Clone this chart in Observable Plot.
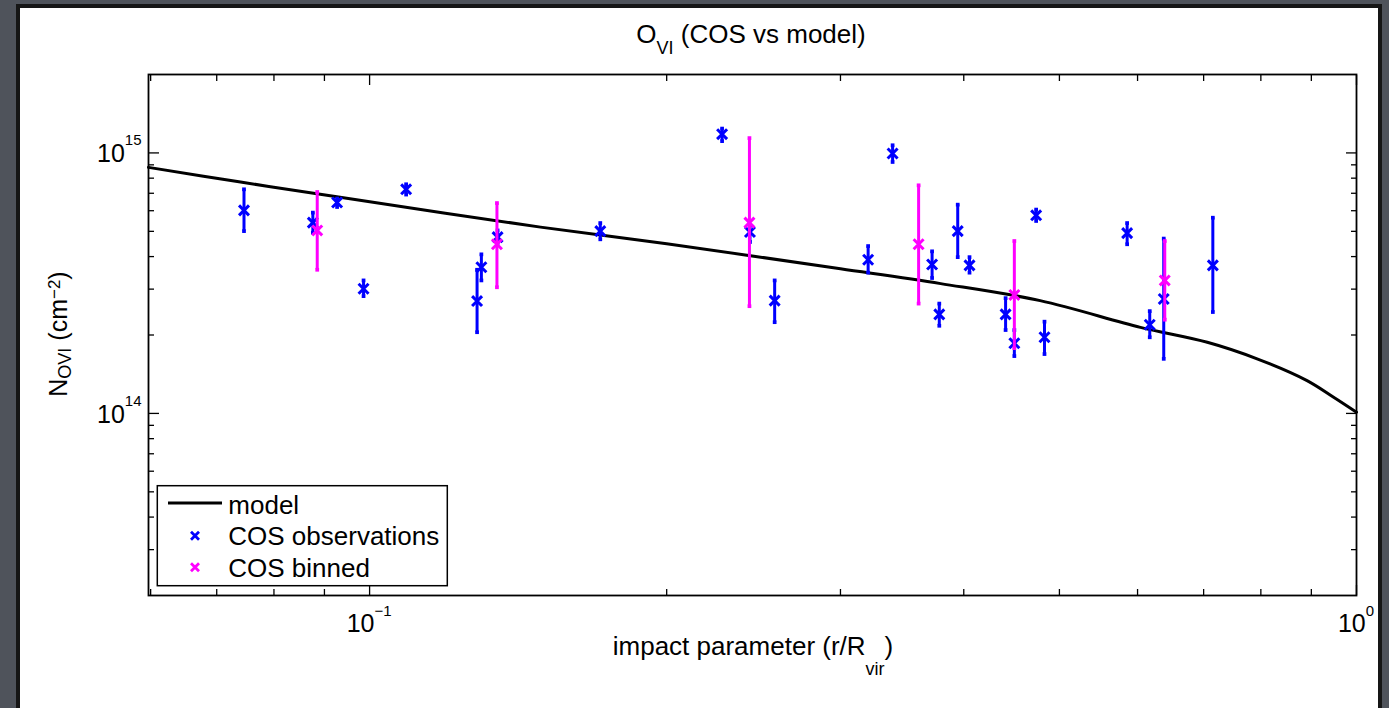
<!DOCTYPE html>
<html>
<head>
<meta charset="utf-8">
<script src="https://cdn.jsdelivr.net/npm/d3@7"></script>
<script src="https://cdn.jsdelivr.net/npm/@observablehq/plot@0.6"></script>
<style>
  html, body { margin: 0; padding: 0; width: 1389px; height: 708px; overflow: hidden; background: #4f535b; }
  #panel { position: absolute; left: 16px; top: 4px; width: 1366px; height: 712px; background: #fff;
           border: 4px solid #161616; box-sizing: border-box; }
  #chart { position: absolute; left: 0; top: 0; }
</style>
</head>
<body>
<div id="panel"></div>
<div id="chart"></div>
<script>
// Model O VI column density vs impact parameter
const modelR = [0.0597, 0.074, 0.093, 0.149, 0.2, 0.3, 0.379, 0.478, 0.604, 0.706, 0.793, 0.891, 0.948, 1.0];
const modelN = [8.8e14, 7.73e14, 6.77e14, 5.19e14, 4.48e14, 3.59e14, 3.15e14, 2.71e14, 2.14e14, 1.875e14, 1.62e14, 1.336e14, 1.153e14, 1.01e14];

// COS individual sightlines: r/Rvir, N(OVI), lower and upper error bounds
const obsR  = [0.0746, 0.0876, 0.0927, 0.0986, 0.1089, 0.1285, 0.1298, 0.1348, 0.1713, 0.2276, 0.2429, 0.2573, 0.3200,
               0.3388, 0.3715, 0.3778, 0.3944, 0.4054, 0.4410, 0.4501, 0.4736, 0.4829, 0.5856, 0.6173, 0.6378, 0.7152];
const obsN  = [6.02e14, 5.40e14, 6.45e14, 3.01e14, 7.25e14, 2.70e14, 3.64e14, 4.75e14, 5.01e14, 1.18e15, 4.97e14, 2.71e14, 3.89e14,
               9.95e14, 3.73e14, 2.40e14, 5.01e14, 3.70e14, 2.40e14, 1.86e14, 5.76e14, 1.96e14, 4.92e14, 2.19e14, 2.75e14, 3.70e14];
const obsLo = [5.01e14, 4.94e14, 6.20e14, 2.82e14, 6.92e14, 2.05e14, 3.24e14, 4.51e14, 4.66e14, 1.11e15, 4.55e14, 2.24e14, 3.47e14,
               9.23e14, 3.31e14, 2.17e14, 3.98e14, 3.47e14, 2.09e14, 1.66e14, 5.48e14, 1.69e14, 4.46e14, 1.96e14, 1.62e14, 2.45e14];
const obsHi = [7.25e14, 5.90e14, 6.68e14, 3.24e14, 7.58e14, 3.56e14, 4.08e14, 5.04e14, 5.38e14, 1.24e15, 5.27e14, 3.24e14, 4.39e14,
               1.07e15, 4.19e14, 2.64e14, 6.33e14, 3.98e14, 2.77e14, 2.09e14, 6.06e14, 2.25e14, 5.38e14, 2.47e14, 4.69e14, 5.64e14];

// COS binned values
const binR  = [0.0885, 0.1346, 0.2426, 0.3600, 0.4501, 0.6393];
const binN  = [5.04e14, 4.46e14, 5.40e14, 4.46e14, 2.85e14, 3.24e14];
const binLo = [3.56e14, 3.05e14, 2.58e14, 2.64e14, 1.78e14, 2.29e14];
const binHi = [7.08e14, 6.42e14, 1.14e15, 7.51e14, 4.59e14, 4.59e14];

// Axis ticks
const xMajor = [0.1, 1];
const xMinor = [0.06, 0.07, 0.08, 0.09, 0.2, 0.3, 0.4, 0.5, 0.6, 0.7, 0.8, 0.9];
const yMajor = [1e14, 1e15];
const yMinor = [3e13, 4e13, 5e13, 6e13, 7e13, 8e13, 9e13, 2e14, 3e14, 4e14, 5e14, 6e14, 7e14, 8e14, 9e14];
const xTickLabels = [{v: 0.1, base: "10", exp: "\u22121"}, {v: 1, base: "10", exp: "0"}];
const yTickLabels = [{v: 1e14, base: "10", exp: "14"}, {v: 1e15, base: "10", exp: "15"}];

const model = modelR.map((r, i) => ({r, n: modelN[i]}));
const obs = obsR.map((r, i) => ({r, n: obsN[i], lo: obsLo[i], hi: obsHi[i]}));
const bins = binR.map((r, i) => ({r, n: binN[i], lo: binLo[i], hi: binHi[i]}));

const BLUE = "#0000ff", MAGENTA = "#ff00ff";
const FONT = "'Liberation Sans', Arial, Helvetica, sans-serif";

function errorMarks(data, color) {
  return [
    Plot.ruleX(data, {x: "r", y1: "lo", y2: "hi", stroke: color, strokeWidth: 3}),
    Plot.dot(data, {x: "r", y: "lo", symbol: "square", r: 2.1, fill: color}),
    Plot.dot(data, {x: "r", y: "hi", symbol: "square", r: 2.1, fill: color}),
    Plot.dot(data, {x: "r", y: "n", symbol: "times", r: 4.6, stroke: color, strokeWidth: 3})
  ];
}

const tickOpts = {fill: "none", label: null, strokeWidth: 1.3};
const plot = Plot.plot({
  width: 1389, height: 708,
  marginLeft: 148, marginRight: 33, marginTop: 74, marginBottom: 113,
  style: {background: "transparent", fontFamily: FONT},
  x: {type: "log", domain: [0.0597, 1]},
  y: {type: "log", domain: [2e13, 2e15]},
  marks: [
    Plot.axisX({anchor: "bottom", ticks: xMajor, tickSize: -10, ...tickOpts}),
    Plot.axisX({anchor: "bottom", ticks: xMinor, tickSize: -6, ...tickOpts}),
    Plot.axisX({anchor: "top", ticks: xMajor, tickSize: -10, ...tickOpts}),
    Plot.axisX({anchor: "top", ticks: xMinor, tickSize: -6, ...tickOpts}),
    Plot.axisY({anchor: "left", ticks: yMajor, tickSize: -11, ...tickOpts}),
    Plot.axisY({anchor: "left", ticks: yMinor, tickSize: -6, ...tickOpts}),
    Plot.axisY({anchor: "right", ticks: yMajor, tickSize: -11, ...tickOpts}),
    Plot.axisY({anchor: "right", ticks: yMinor, tickSize: -6, ...tickOpts}),
    Plot.line(model, {x: "r", y: "n", stroke: "black", strokeWidth: 3, curve: "catmull-rom"}),
    ...errorMarks(obs, BLUE),
    ...errorMarks(bins, MAGENTA),
    Plot.frame({stroke: "black", strokeWidth: 1.8})
  ]
});
document.getElementById("chart").appendChild(plot);

// Text with sub/superscripts, positioned through the plot's scales
const sx = plot.scale("x"), sy = plot.scale("y");
const svg = d3.select(plot);
const txt = svg.append("g").attr("font-family", FONT).attr("fill", "black");

for (const t of yTickLabels) {
  const el = txt.append("text").attr("x", 141.5).attr("y", sy.apply(t.v) + 9.6)
    .attr("text-anchor", "end").attr("font-size", 25);
  el.append("tspan").text(t.base);
  el.append("tspan").attr("font-size", 15).attr("dy", -17).text(t.exp);
}
for (const t of xTickLabels) {
  const el = txt.append("text").attr("x", sx.apply(t.v)).attr("y", 631.7)
    .attr("text-anchor", "middle").attr("font-size", 25);
  el.append("tspan").text(t.base);
  el.append("tspan").attr("font-size", 15).attr("dy", -16).text(t.exp);
}

// Title
{
  const el = txt.append("text").attr("x", 751).attr("y", 42.7).attr("text-anchor", "middle").attr("font-size", 26);
  el.append("tspan").text("O");
  el.append("tspan").attr("font-size", 18).attr("dy", 11).text("VI");
  el.append("tspan").attr("dy", -11).text(" (COS vs model)");
}
// x label
{
  const el = txt.append("text").attr("x", 753).attr("y", 655).attr("text-anchor", "middle").attr("font-size", 26);
  el.append("tspan").text("impact parameter (r/R");
  el.append("tspan").attr("font-size", 18).attr("dy", 20).text("vir");
  el.append("tspan").attr("dy", -20).text(")");
}
// y label
{
  const el = txt.append("text").attr("transform", "translate(67.3,334) rotate(-90)")
    .attr("text-anchor", "middle").attr("font-size", 25);
  el.append("tspan").text("N");
  el.append("tspan").attr("font-size", 18).attr("dy", 4).text("OVI");
  el.append("tspan").attr("dy", -4).text(" (cm");
  el.append("tspan").attr("font-size", 17).attr("dy", -7).text("\u22122");
  el.append("tspan").attr("dy", 7).text(")");
}

// Legend box
{
  const lg = svg.append("g").attr("font-family", FONT).attr("text-anchor", "start");
  lg.append("rect").attr("x", 157.3).attr("y", 485.7).attr("width", 290).attr("height", 100)
    .attr("fill", "white").attr("stroke", "black").attr("stroke-width", 1.5);
  lg.append("line").attr("x1", 168).attr("x2", 222).attr("y1", 503).attr("y2", 503)
    .attr("stroke", "black").attr("stroke-width", 3);
  const cross = (cx, cy, color) => lg.append("path")
    .attr("d", `M${cx-4},${cy-4}L${cx+4},${cy+4}M${cx-4},${cy+4}L${cx+4},${cy-4}`)
    .attr("stroke", color).attr("stroke-width", 2.8).attr("fill", "none");
  cross(195, 535.7, BLUE);
  cross(195, 567.3, MAGENTA);
  const items = [["model", 514.3], ["COS observations", 545], ["COS binned", 576.7]];
  for (const [label, y] of items) {
    lg.append("text").attr("x", 228.3).attr("y", y).attr("font-size", 26).attr("fill", "black").text(label);
  }
}
</script>
</body>
</html>
